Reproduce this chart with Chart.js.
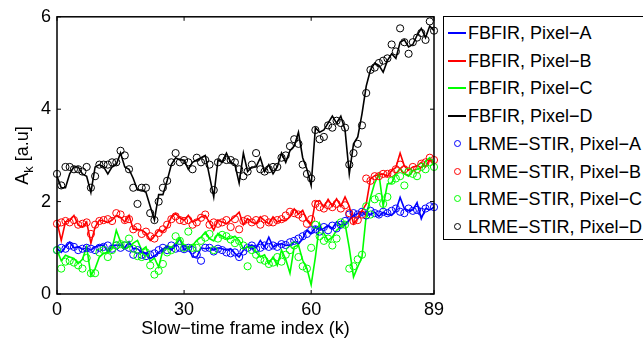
<!DOCTYPE html>
<html>
<head>
<meta charset="utf-8">
<script src="https://cdn.jsdelivr.net/npm/chart.js@4"></script>
<style>
  body { margin: 0; background: #fff; overflow: hidden; }
  #wrap { position: relative; width: 643px; height: 340px; overflow: hidden; }
  #legend {
    position: absolute; left: 443px; top: 16px; width: 205px; height: 224px;
    border: 1px solid #000; box-sizing: border-box; background: #fff;
    font-family: "Liberation Sans", Arial, sans-serif; font-size: 18px; color: #000;
  }
  .row { position: absolute; left: 0; height: 20px; white-space: nowrap; }
  .swatch { position: absolute; left: 4px; top: 9px; width: 18px; height: 2px; }
  .dot { position: absolute; left: 10px; top: 6px; width: 5px; height: 5px; border: 1px solid; border-radius: 50%; }
  .lbl { position: absolute; left: 24px; top: 0; line-height: 20px; }
</style>
</head>
<body>
<div id="wrap">
  <canvas id="graph" width="643" height="340"></canvas>
  <div id="legend"></div>
</div>
<script>
// frame index k = 0..89
const frames = Array.from({ length: 90 }, (_, i) => i);
const xTicks = [0, 30, 60, 89];
const yTicks = [0, 2, 4, 6];

const seriesNames = [
  'FBFIR, Pixel−A', 'FBFIR, Pixel−B', 'FBFIR, Pixel−C', 'FBFIR, Pixel−D',
  'LRME−STIR, Pixel−A', 'LRME−STIR, Pixel−B', 'LRME−STIR, Pixel−C', 'LRME−STIR, Pixel−D'
];

// FBFIR (lines)
const fbfirA = [0.98,0.9,1.02,1.12,1.0,1.02,0.97,1.0,0.95,1.02, 1.05,1.06,0.92,1.05,1.06,1.05,1.0,1.13,0.98,0.98,
  0.9,0.88,0.77,0.82,0.9,0.98,1.0,0.95,1.05,1.2, 0.95,1.02,0.8,0.8,1.0,0.98,1.0,0.95,1.0,0.98,
  0.95,0.98,0.88,0.8,0.95,1.02,1.06,1.0,1.16,1.02, 1.23,1.02,1.06,1.09,1.05,1.06,1.13,1.08,1.2,1.38,
  1.31,1.45,1.38,1.42,1.49,1.42,1.56,1.49,1.52,1.6, 1.7,1.74,1.77,1.7,1.72,1.77,1.68,1.77,1.72,1.7,
  1.81,2.09,1.85,1.81,1.82,1.98,1.63,1.85,1.82,1.88];
const fbfirB = [1.56,1.16,1.56,1.59,1.7,1.49,1.45,1.56,1.1,1.45, 1.6,1.58,1.55,1.6,1.7,1.66,1.56,1.7,1.4,1.4,
  1.38,1.32,1.16,1.25,1.38,1.35,1.45,1.67,1.74,1.65, 1.59,1.7,1.56,1.6,1.67,1.7,1.55,1.38,1.6,1.56,
  1.52,1.6,1.68,1.77,1.5,1.63,1.55,1.52,1.67,1.59, 1.52,1.67,1.56,1.6,1.59,1.67,1.84,1.73,1.81,1.59,
  1.49,2.0,2.02,1.88,2.05,1.9,2.06,1.9,2.1,1.9, 1.52,1.63,1.8,1.95,2.49,2.56,2.58,2.6,2.55,2.67,
  2.74,3.05,2.77,2.68,2.75,2.77,2.85,2.75,2.92,2.85];
const fbfirC = [0.95,0.72,0.84,0.8,0.77,0.66,0.75,1.02,0.4,0.55, 0.8,0.88,0.9,0.98,1.38,1.13,0.98,1.02,1.1,1.16,
  0.95,1.02,0.7,0.78,0.58,0.95,1.05,1.0,1.1,1.2, 1.05,0.98,1.05,1.16,1.23,1.34,1.2,1.15,1.31,1.25,
  1.2,1.2,1.25,1.16,0.98,1.02,1.0,0.91,0.8,0.85, 0.66,0.8,0.62,0.95,0.75,0.45,1.02,1.06,0.73,0.55,
  0.2,0.8,1.52,1.31,1.16,1.23,1.38,1.45,1.52,1.0, 0.37,0.59,0.8,1.7,2.09,2.4,2.6,1.9,2.38,2.4,
  2.6,2.72,2.6,2.55,2.67,2.7,2.74,2.88,2.95,2.78];
const fbfirD = [2.55,2.3,2.3,2.6,2.75,2.75,2.6,2.55,2.2,2.75, 2.8,2.75,2.6,2.75,2.8,3.05,2.75,2.7,2.5,2.25,
  2.25,2.2,1.9,1.6,2.15,2.15,2.45,2.8,2.95,2.9, 2.9,2.7,2.85,2.9,2.95,3.0,2.55,2.1,2.9,2.85,
  3.05,2.85,2.8,2.4,3.05,2.65,2.75,2.75,2.95,2.65, 2.8,2.6,2.75,3.05,2.85,3.1,3.2,3.5,2.95,2.7,
  2.35,3.6,3.5,3.55,3.7,3.85,3.7,3.85,3.55,2.6, 3.25,3.4,3.9,4.5,4.85,5.0,4.95,4.8,5.05,5.2,
  5.1,5.45,5.5,5.35,5.4,5.6,5.75,5.55,5.8,5.7];

// LRME-STIR (circles)
const lrmeA = [0.95,1.0,0.98,1.05,1.02,0.95,0.98,1.0,0.98,0.95, 1.0,1.02,1.05,0.98,1.05,1.0,1.05,1.0,0.85,0.95,
  0.85,0.82,0.85,0.88,0.95,1.0,0.95,1.05,0.98,1.0, 0.97,1.0,0.95,0.85,0.72,1.0,1.0,0.92,0.98,0.95,
  0.9,0.88,0.9,0.8,0.92,1.0,1.05,0.98,1.0,1.05, 1.02,1.05,1.02,1.08,1.06,1.12,1.15,1.2,1.25,1.3,
  1.38,1.4,1.35,1.45,1.38,1.48,1.42,1.5,1.58,1.72, 1.75,1.72,1.78,1.7,1.8,1.75,1.72,1.78,1.75,1.8,
  1.85,1.78,1.75,1.85,1.8,1.82,1.78,1.85,1.9,1.88];
const lrmeB = [1.52,1.55,1.58,1.55,1.6,1.5,1.52,1.55,1.3,1.5, 1.58,1.6,1.62,1.58,1.75,1.72,1.6,1.62,1.4,1.45,
  1.3,1.35,1.25,1.2,1.32,1.4,1.5,1.62,1.68,1.6, 1.58,1.6,1.5,1.55,1.65,1.72,1.5,1.55,1.52,1.55,
  1.6,1.45,1.62,1.4,1.58,1.62,1.55,1.6,1.5,1.62, 1.55,1.55,1.6,1.62,1.7,1.78,1.75,1.72,1.65,1.52,
  1.62,1.95,1.88,1.85,1.92,1.88,1.95,1.85,1.92,1.75, 1.58,1.6,1.72,2.5,2.45,2.55,2.55,2.6,2.6,2.62,
  2.7,2.8,2.7,2.65,2.75,2.7,2.82,2.85,2.95,2.9];
const lrmeC = [0.95,0.55,0.7,0.72,0.68,0.62,0.55,0.78,0.45,0.45, 0.9,0.95,0.8,0.95,1.05,1.08,1.05,1.2,0.98,0.82,
  0.8,0.9,0.62,0.42,0.5,0.65,0.9,0.95,1.25,1.15, 1.0,1.35,1.0,1.0,1.15,1.22,1.3,0.95,1.2,1.28,
  1.25,1.18,1.1,1.15,1.05,0.6,0.95,0.85,0.75,0.72, 0.65,0.68,0.8,0.7,0.85,0.95,1.05,0.8,0.6,0.55,
  1.0,1.5,1.25,1.15,1.2,1.05,1.2,1.55,1.5,0.55, 0.6,0.75,0.85,1.9,1.72,2.05,2.1,1.95,2.1,2.45,
  2.5,2.55,2.35,2.65,2.6,2.55,2.75,2.7,2.85,2.75];
const lrmeD = [2.6,2.35,2.75,2.75,2.7,2.7,2.65,2.75,2.3,2.55, 2.8,2.8,2.8,2.85,2.85,3.1,3.0,2.7,2.3,1.95,
  2.3,2.3,1.75,1.6,2.0,2.3,2.45,2.85,3.05,2.85, 2.9,2.85,2.7,2.95,2.85,2.9,2.8,2.25,2.85,2.95,
  2.9,2.9,2.85,2.7,2.55,2.65,2.8,3.05,2.7,2.65, 2.7,2.75,2.75,2.95,3.0,3.2,3.35,3.25,2.8,2.6,
  2.5,3.55,3.35,3.4,3.65,3.6,3.75,3.7,3.6,2.8, 3.05,3.25,3.65,4.35,4.85,4.9,5.0,5.05,5.1,5.4,
  5.25,5.75,5.45,5.2,5.45,5.55,5.65,5.5,5.9,5.7];

const colors = ['#0000ff', '#ff0000', '#00ff00', '#000000'];

function toXY(values) {
  return values.map((v, i) => ({ x: frames[i], y: v }));
}

function lineSet(label, values, color, order) {
  return { label, data: toXY(values), borderColor: color, borderWidth: 1.6,
    pointRadius: 0, fill: false, tension: 0, clip: false, order };
}

function dotSet(label, values, color, order) {
  return { label, data: toXY(values), showLine: false, borderColor: color,
    backgroundColor: 'rgba(0,0,0,0)', pointRadius: 3.6, pointBorderWidth: 1,
    clip: false, order };
}

// cadre, graduations vers l'intérieur et titre de l'axe y (avec indice)
const cadre = {
  id: 'cadre',
  afterDraw(chart) {
    const { ctx, chartArea: a, scales: { x, y } } = chart;
    ctx.save();
    ctx.strokeStyle = '#000';
    ctx.lineWidth = 1.5;
    ctx.strokeRect(a.left, a.top, a.right - a.left, a.bottom - a.top);
    ctx.lineWidth = 1;
    ctx.beginPath();
    xTicks.forEach(v => {
      const px = x.getPixelForValue(v);
      ctx.moveTo(px, a.bottom); ctx.lineTo(px, a.bottom - 4);
      ctx.moveTo(px, a.top); ctx.lineTo(px, a.top + 4);
    });
    yTicks.forEach(v => {
      const py = y.getPixelForValue(v);
      ctx.moveTo(a.left, py); ctx.lineTo(a.left + 4, py);
      ctx.moveTo(a.right, py); ctx.lineTo(a.right - 4, py);
    });
    ctx.stroke();

    ctx.translate(23, (a.top + a.bottom) / 2);
    ctx.rotate(-Math.PI / 2);
    ctx.fillStyle = '#000';
    ctx.textBaseline = 'middle';
    const big = '18px "Liberation Sans", Arial, sans-serif';
    const small = '13px "Liberation Sans", Arial, sans-serif';
    ctx.font = big;
    const wA = ctx.measureText('A').width;
    const wRest = ctx.measureText(' [a.u]').width;
    ctx.font = small;
    const wk = ctx.measureText('k').width;
    let start = -(wA + wk + wRest) / 2;
    ctx.font = big;
    ctx.fillText('A', start, 0);
    ctx.font = small;
    ctx.fillText('k', start + wA, 6);
    ctx.font = big;
    ctx.fillText(' [a.u]', start + wA + wk, 0);
    ctx.restore();
  }
};

const ctx = document.getElementById('graph').getContext('2d');
const font = { family: '"Liberation Sans", Arial, sans-serif', size: 18 };

const monGraphique = new Chart(ctx, {
  type: 'line',
  data: {
    datasets: [
      lineSet(seriesNames[0], fbfirA, colors[0], 8),
      lineSet(seriesNames[1], fbfirB, colors[1], 7),
      lineSet(seriesNames[2], fbfirC, colors[2], 6),
      lineSet(seriesNames[3], fbfirD, colors[3], 5),
      dotSet(seriesNames[4], lrmeA, colors[0], 4),
      dotSet(seriesNames[5], lrmeB, colors[1], 3),
      dotSet(seriesNames[6], lrmeC, colors[2], 2),
      dotSet(seriesNames[7], lrmeD, colors[3], 1)
    ]
  },
  options: {
    responsive: false,
    animation: false,
    devicePixelRatio: 1,
    layout: { padding: { left: 0, top: 15, right: 209, bottom: 0 } },
    plugins: { legend: { display: false }, tooltip: { enabled: false } },
    scales: {
      x: {
        type: 'linear', min: 0, max: 89,
        afterBuildTicks: s => { s.ticks = xTicks.map(v => ({ value: v })); },
        afterFit: s => { s.height = 46; },
        grid: { display: false, drawTicks: false },
        border: { display: false },
        ticks: { font, color: '#000', padding: 5, maxRotation: 0, autoSkip: false },
        title: { display: true, text: 'Slow−time frame index (k)', font, color: '#000', padding: { top: 0, bottom: 0 } }
      },
      y: {
        min: 0, max: 6,
        afterBuildTicks: s => { s.ticks = yTicks.map(v => ({ value: v })); },
        afterFit: s => { s.width = 57; },
        grid: { display: false, drawTicks: false },
        border: { display: false },
        ticks: { font, color: '#000', padding: 6 }
      }
    }
  },
  plugins: [cadre]
});

// légende
const legend = document.getElementById('legend');
const rowTops = [6, 34, 61, 89, 117, 145, 172, 200];
seriesNames.forEach((name, i) => {
  const row = document.createElement('div');
  row.className = 'row';
  row.style.top = rowTops[i] + 'px';
  const mark = document.createElement('span');
  if (i < 4) {
    mark.className = 'swatch';
    mark.style.background = colors[i];
  } else {
    mark.className = 'dot';
    mark.style.borderColor = colors[i - 4];
  }
  const lbl = document.createElement('span');
  lbl.className = 'lbl';
  lbl.textContent = name;
  row.appendChild(mark);
  row.appendChild(lbl);
  legend.appendChild(row);
});
</script>
</body>
</html>
